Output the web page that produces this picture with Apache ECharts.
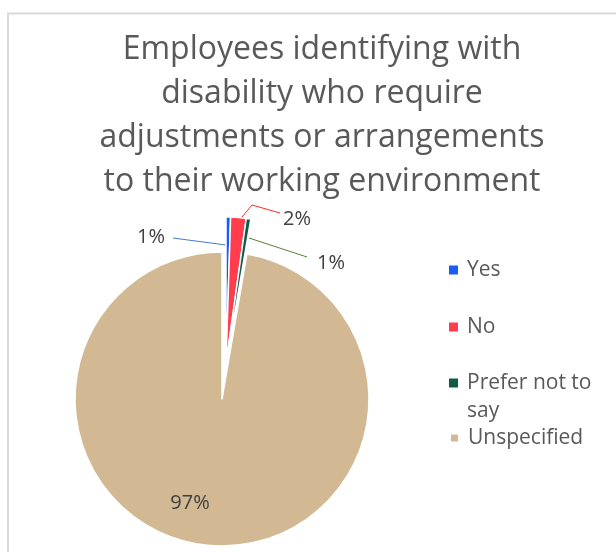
<!DOCTYPE html>
<html>
<head>
<meta charset="utf-8">
<script src="https://cdn.jsdelivr.net/npm/echarts@6/dist/echarts.min.js"></script>
<style>
  html, body { margin: 0; padding: 0; background: #fff; }
  #chart { width: 616px; height: 552px; }
</style>
</head>
<body>
<div id="chart"></div>
<script>
// data (percent of employees)
const categories = ['Yes', 'No', 'Prefer not to say', 'Unspecified'];
const shares = [0.5, 1.7, 0.5, 97.3];
const sliceColors = ['#1a5cf5', '#ff3d4d', '#0c5c48', '#d2b994'];
const leaderColors = ['#4a78d0', '#ff2a2a', '#548235', '#d2b994'];
// the three small slices are pulled out of the pie
const exploded = [true, true, true, false];

const pieCenter = [222, 399];
const pieRadius = 147;
const explodeShift = [4, -35];

// label spots, relative to the pie centre
const labelSpots = [
  { x: -57, y: -162, align: 'right', line: [[4, -154], [-49, -161]] },
  { x: 61, y: -180, align: 'left', line: [[20, -182], [30, -194], [58, -186]] },
  { x: 95, y: -136, align: 'left', line: [[27, -161], [85, -142]] },
  { x: -32, y: 104, align: 'center', line: null },
];

const textGrey = '#595959';
const fontFamily = '"Open Sans", "Noto Sans", sans-serif';

const chart = echarts.init(document.getElementById('chart'));

function sliceData(showExploded) {
  return categories.map((name, i) => {
    const visible = exploded[i] === showExploded;
    return {
      name,
      value: shares[i],
      itemStyle: visible
        ? { color: sliceColors[i], borderColor: '#fff', borderWidth: 1.5 }
        : { color: 'rgba(0,0,0,0)', borderWidth: 0 },
      label: {
        show: visible,
        position: exploded[i] ? 'outside' : 'inside',
      },
      labelLine: {
        show: visible && exploded[i],
        lineStyle: { color: leaderColors[i], width: 1 },
      },
    };
  });
}

function pieSeries(showExploded) {
  const center = showExploded
    ? [pieCenter[0] + explodeShift[0], pieCenter[1] + explodeShift[1]]
    : pieCenter;
  return {
    type: 'pie',
    center,
    radius: pieRadius,
    startAngle: 90,
    clockwise: true,
    avoidLabelOverlap: false,
    silent: true,
    emphasis: { disabled: true },
    label: {
      color: '#404040',
      fontFamily,
      fontSize: 20,
      formatter: (p) => Math.round(p.percent) + '%',
    },
    labelLayout: (p) => {
      const spot = labelSpots[p.dataIndex];
      const out = {
        x: pieCenter[0] + spot.x,
        y: pieCenter[1] + spot.y,
        align: spot.align,
        verticalAlign: 'middle',
      };
      if (spot.line) {
        out.labelLinePoints = spot.line.map(([dx, dy]) => [pieCenter[0] + dx, pieCenter[1] + dy]);
      }
      return out;
    },
    data: sliceData(showExploded),
  };
}

// one legend per entry so the wrapped entry keeps its marker on the first line
const legendCenters = [270, 327, 383, 438];
const legends = categories.map((name, i) => {
  const wrapped = name === 'Prefer not to say';
  const lineHeight = 28;
  const itemH = wrapped ? lineHeight * 3 : lineHeight;
  return {
    data: [{ name, itemStyle: { color: sliceColors[i] } }],
    orient: 'vertical',
    left: 449,
    top: legendCenters[i] - itemH / 2,
    padding: 0,
    itemWidth: 9,
    itemHeight: 9,
    icon: 'rect',
    selectedMode: false,
    formatter: (n) => (n === 'Prefer not to say' ? ' \nPrefer not to\nsay' : n),
    textStyle: {
      color: textGrey,
      fontFamily,
      fontSize: 21,
      lineHeight,
      padding: [0, 0, 0, 4],
    },
  };
});

chart.setOption({
  animation: false,
  graphic: [
    {
      type: 'rect',
      shape: { x: 8, y: 13.5, width: 700, height: 600 },
      style: { fill: 'none', stroke: '#d9d9d9', lineWidth: 2 },
      silent: true,
    },
  ],
  title: {
    text: 'Employees identifying with\ndisability who require\nadjustments or arrangements\nto their working environment',
    left: 317,
    top: 23,
    textAlign: 'center',
    textStyle: {
      color: textGrey,
      fontFamily,
      fontSize: 32,
      fontWeight: 'normal',
      lineHeight: 44,
    },
  },
  legend: legends,
  series: [pieSeries(false), pieSeries(true)],
});
</script>
</body>
</html>
